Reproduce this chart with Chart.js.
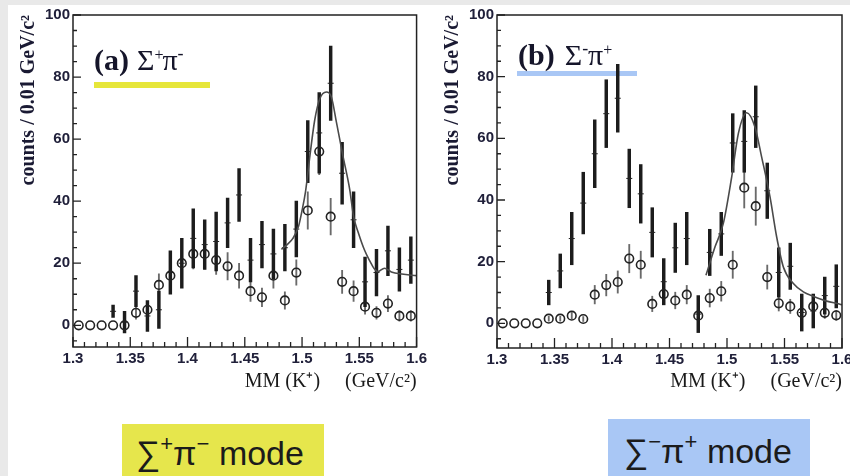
<!DOCTYPE html>
<html>
<head>
<meta charset="utf-8">
<script src="https://cdn.jsdelivr.net/npm/chart.js@4.4.1/dist/chart.umd.min.js"></script>
<style>
  html, body { margin: 0; padding: 0; width: 850px; height: 476px; overflow: hidden; background: #e9e9e9; }
  #sheet { position: absolute; left: 8px; top: 5px; width: 842px; height: 471px; background: #fff; }
  canvas { position: absolute; top: 0; }
  #chartA { left: 0; }
  #chartB { left: 425px; }
  .mode {
    position: absolute; width: 202px; box-sizing: border-box;
    font-family: "Liberation Sans", Arial, sans-serif; font-size: 34px; line-height: 34px;
    color: #1b1b1b; white-space: nowrap;
  }
  .mode span { font-size: 22px; position: relative; top: -14px; }
  #modeA { left: 122px; top: 424px; height: 52px; padding: 12px 0 0 14px; background: #e6e64c; }
  #modeB { left: 608px; top: 419px; height: 57px; padding: 15px 0 0 16px; background: #a9c7f5; }
</style>
</head>
<body>
<div id="sheet"></div>
<canvas id="chartA" width="430" height="400"></canvas>
<canvas id="chartB" width="435" height="400"></canvas>
<div class="mode" id="modeA">∑<span>+</span>π<span>−</span> mode</div>
<div class="mode" id="modeB">∑<span>−</span>π<span>+</span> mode</div>
<script>
// 0.01 GeV/c^2 bins of the K+ missing mass
const binCenters = [1.305, 1.315, 1.325, 1.335, 1.345, 1.355, 1.365, 1.375, 1.385, 1.395,
                    1.405, 1.415, 1.425, 1.435, 1.445, 1.455, 1.465, 1.475, 1.485, 1.495,
                    1.505, 1.515, 1.525, 1.535, 1.545, 1.555, 1.565, 1.575, 1.585, 1.595];
const xTickValues = [1.3, 1.35, 1.4, 1.45, 1.5, 1.55, 1.6];
const yTickValues = [0, 20, 40, 60, 80, 100];

// (a) Sigma+ pi-
const openA    = [0, 0, 0, 0, 0, 4, 5, 13, 16, 20, 23, 23, 21, 19, 16, 11, 9, 16, 8, 17, 37, 56, 35, 14, 11, 6, 4, 7, 3, 3];
const openErrA = [0, 0, 0, 0, 0, 2, 2.2, 3.6, 4, 4.5, 4.8, 4.8, 4.6, 4.4, 4, 3.3, 3, 4, 2.8, 4.1, 6, 7.5, 5.9, 3.7, 3.3, 2.4, 2, 2.6, 1.7, 1.7];
const fullA    = [null, null, null, 4.5, 1, 11, 3, 5, 17, 20, 28, 26, 27, 33, 42, 21, 26, 23, 25, 31, 56, 62, 78, 49, 34, 14, 17, 24, 18, 21];
const fullErrA = [0, 0, 0, 2, 3.5, 5, 5, 6, 7, 8, 9.5, 8, 9.5, 8, 8.5, 7, 7.5, 8, 7.5, 9, 10, 13, 12, 10, 9, 8, 7.5, 8, 7, 7.5];
const fitXA = [1.482, 1.487, 1.492, 1.497, 1.5, 1.503, 1.507, 1.511, 1.5155, 1.5212, 1.5256, 1.53, 1.5357, 1.5416,
               1.545, 1.549, 1.5548, 1.5595, 1.5625, 1.566, 1.572, 1.578, 1.587, 1.6];
const fitYA = [24.5, 26, 28, 32, 37, 43, 55, 66, 73, 75.2, 73.6, 65.5, 54.6, 43.8,
               35, 30, 24, 20.5, 18.5, 17.3, 18.4, 17.2, 16.5, 16];

// (b) Sigma- pi+
const openB    = [0, 0, 0, 0, 1.5, 1.5, 2.5, 1.4, 9.3, 12.4, 13.4, 21, 19, 6.3, 9.5, 7.4, 9.3, 2.5, 8.2, 10.4, 19, 44, 38, 15, 6.5, 5.5, 3.4, 5.5, 3.4, 2.6];
const openErrB = [0, 0, 0, 0, 0.8, 0.8, 1, 0.8, 3, 3.5, 3.6, 4.6, 4.4, 2.5, 3, 2.7, 3, 1.6, 2.9, 3.2, 4.4, 6.6, 6.2, 3.9, 2.5, 2.3, 1.8, 2.3, 1.8, 1.6];
const fullB    = [null, null, null, null, 10, 17, 27.5, 39, 55, 68, 73, 47, 42, 29.5, 13.5, 24.5, 27.5, 3, 23, 29, 58.5, 59, 67, 43, 16.5, 18.5, 3.5, 4, 9, 12];
const fullErrB = [0, 0, 0, 0, 4, 5.5, 8.5, 10, 11, 11, 11, 9.5, 9.5, 8, 7.5, 8, 8.5, 6, 7.5, 7, 9.5, 10, 10, 9, 8, 7.5, 6, 5.5, 6, 7];
const fitXB = [1.4817, 1.4896, 1.4968, 1.5041, 1.5099, 1.5171, 1.5243, 1.5301, 1.5374, 1.5432,
               1.549, 1.5577, 1.5664, 1.575, 1.5867, 1.5983, 1.6];
const fitYB = [15.6, 24.8, 32.4, 47.5, 61.6, 68.3, 63.7, 54, 41, 28,
               18.3, 12.9, 10.2, 8.8, 7.2, 6.2, 6];

const serif = '"Liberation Serif", "Times New Roman", serif';
const sans = '"Liberation Sans", Arial, sans-serif';

function errorBars(values, errs) {
  return binCenters
    .map((x, i) => (values[i] == null || !errs[i]) ? null : { x, y: [values[i] - errs[i], values[i] + errs[i]] })
    .filter(Boolean);
}

function markers(values) {
  return binCenters.map((x, i) => values[i] == null ? null : { x, y: values[i] }).filter(Boolean);
}

function drawTag(ctx, x, y, parts) {
  let cx = x;
  for (const p of parts) {
    cx += p.before || 0;
    ctx.font = p.font;
    ctx.fillText(p.t, cx, y + (p.dy || 0));
    cx += ctx.measureText(p.t).width;
  }
}

// ROOT style frame with inward ticks, plus the panel tag
const framePlugin = {
  id: 'frame',
  beforeDatasetsDraw(chart, args, o) {
    const { ctx, chartArea: a } = chart;
    ctx.save();
    ctx.fillStyle = o.barColor;
    ctx.fillRect(a.left + o.barX, o.barY, o.barW, o.barH);
    ctx.fillStyle = '#15152a';
    ctx.textBaseline = 'alphabetic';
    drawTag(ctx, a.left + o.tagX, o.tagY, o.tag);
    ctx.restore();
  },
  afterDraw(chart) {
    const { ctx, chartArea: a, scales: { x, y } } = chart;
    ctx.save();
    ctx.strokeStyle = '#222';
    ctx.lineWidth = 1.5;
    ctx.strokeRect(a.left, a.top, a.right - a.left, a.bottom - a.top);
    ctx.lineWidth = 1.3;
    ctx.beginPath();
    for (let i = 0; i <= 30; i++) {
      const px = x.getPixelForValue(1.3 + i * 0.01);
      ctx.moveTo(px, a.bottom);
      ctx.lineTo(px, a.bottom - (i % 5 === 0 ? 10 : 5));
    }
    for (let j = -1; j <= 20; j++) {
      const py = y.getPixelForValue(j * 5);
      ctx.moveTo(a.left, py);
      ctx.lineTo(a.left + (j % 4 === 0 ? 8 : 4), py);
    }
    ctx.stroke();
    ctx.restore();
  }
};

function makePanel(id, p) {
  const fit = p.fitX.map((x, i) => ({ x, y: p.fitY[i] }));
  return new Chart(document.getElementById(id), {
    type: 'scatter',
    data: {
      datasets: [
        {
          type: 'line', data: fit, borderColor: '#4a4a4a', borderWidth: 1.6,
          pointRadius: 0, cubicInterpolationMode: 'monotone', order: 1
        },
        {
          data: markers(p.open), pointStyle: 'circle', pointRadius: 4.3,
          borderColor: '#222', borderWidth: 1.6, backgroundColor: 'rgba(0,0,0,0)', order: 2
        },
        {
          data: markers(p.full), pointStyle: 'cross', pointRadius: 3,
          borderColor: '#222', borderWidth: 1, order: 3
        },
        {
          type: 'bar', data: errorBars(p.full, p.fullErr), backgroundColor: '#1c1c1c',
          barThickness: 2.8, grouped: false, order: 4
        },
        {
          type: 'bar', data: errorBars(p.open, p.openErr), backgroundColor: '#6a6a6a',
          barThickness: 1.2, grouped: false, order: 5
        }
      ]
    },
    options: {
      responsive: false,
      animation: false,
      layout: { padding: { top: 15, right: p.padRight, left: 0, bottom: 0 } },
      plugins: {
        legend: { display: false },
        tooltip: { enabled: false },
        frame: p.frame
      },
      scales: {
        x: {
          type: 'linear', min: 1.3, max: 1.6, offset: false,
          afterBuildTicks: s => { s.ticks = xTickValues.map(v => ({ value: v })); },
          afterFit: s => { s.height = p.xHeight; },
          grid: { display: false, drawTicks: false },
          border: { display: false },
          ticks: {
            padding: 3, color: '#20203a', maxRotation: 0, autoSkip: false,
            font: { family: sans, size: 15, weight: 'bold' },
            callback: v => String(Number(v.toFixed(2)))
          },
          title: {
            display: true, align: 'end', text: 'MM (K\u207A)     (GeV/c\u00B2)', color: '#1a1a1a',
            font: { family: serif, size: 20 }, padding: { top: 0, bottom: 6 }
          }
        },
        y: {
          min: p.yMin, max: 100,
          afterBuildTicks: s => { s.ticks = yTickValues.map(v => ({ value: v })); },
          afterFit: s => { s.width = p.yWidth; },
          grid: { display: false, drawTicks: false },
          border: { display: false },
          ticks: {
            padding: 3, color: '#20203a',
            font: { family: sans, size: 15, weight: 'bold' }
          },
          title: {
            display: true, align: 'end', text: 'counts / 0.01 GeV/c\u00B2', color: '#1a1a33',
            font: { family: serif, size: 20, weight: 'bold' }, padding: { top: p.yTitlePad, bottom: 0 }
          }
        }
      }
    },
    plugins: [framePlugin]
  });
}

makePanel('chartA', {
  open: openA, openErr: openErrA, full: fullA, fullErr: fullErrA, fitX: fitXA, fitY: fitYA,
  yMin: -7, yWidth: 73, xHeight: 53, padRight: 12, yTitlePad: 17,
  frame: {
    barColor: '#e6e63a', barX: 21, barY: 82, barW: 116, barH: 6,
    tagX: 21, tagY: 70,
    tag: [
      { t: '(a)', font: 'bold 30px ' + serif },
      { t: '\u03A3', font: '30px ' + serif, before: 8 },
      { t: '+', font: '16px ' + serif, dy: -10 },
      { t: '\u03C0', font: '30px ' + serif, before: -1 },
      { t: '-', font: '18px ' + serif, dy: -11 }
    ]
  }
});

makePanel('chartB', {
  open: openB, openErr: openErrB, full: fullB, fullErr: fullErrB, fitX: fitXB, fitY: fitYB,
  yMin: -8, yWidth: 72, xHeight: 52, padRight: 18, yTitlePad: 16,
  frame: {
    barColor: '#a9c7f5', barX: 20, barY: 71, barW: 120, barH: 5,
    tagX: 21, tagY: 65,
    tag: [
      { t: '(b)', font: 'bold 30px ' + serif },
      { t: '\u03A3', font: '30px ' + serif, before: 10 },
      { t: '-', font: '18px ' + serif, dy: -11 },
      { t: '\u03C0', font: '30px ' + serif },
      { t: '+', font: '16px ' + serif, dy: -10 }
    ]
  }
});
</script>
</body>
</html>
